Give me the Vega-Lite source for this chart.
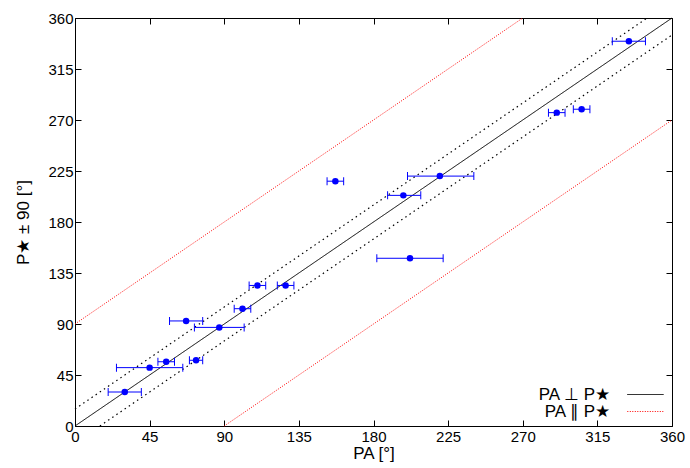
{
  "$schema": "https://vega.github.io/schema/vega-lite/v6.json",
  "width": 597,
  "height": 408,
  "autosize": "none",
  "padding": {"left": 75, "top": 18, "right": 18, "bottom": 42},
  "background": "white",
  "config": {
    "font": "Liberation Sans",
    "view": {"stroke": "black", "strokeWidth": 1},
    "axis": {
      "grid": false, "domain": false,
      "tickColor": "black", "tickSize": -6, "tickWidth": 1,
      "labelColor": "black", "labelFontSize": 15, "labelFont": "Liberation Sans",
      "titleColor": "black", "titleFontSize": 17, "titleFontWeight": "normal", "titleFont": "Liberation Sans",
      "labelFlush": false
    }
  },
  "datasets": {
    "pts": [
      {"PA": 30, "P": 30, "lo": 20, "hi": 40},
      {"PA": 45, "P": 51.5, "lo": 25, "hi": 65},
      {"PA": 55, "P": 56.7, "lo": 50, "hi": 60},
      {"PA": 73, "P": 58, "lo": 69, "hi": 77},
      {"PA": 87, "P": 87, "lo": 72, "hi": 102},
      {"PA": 67, "P": 92.7, "lo": 57, "hi": 77},
      {"PA": 101, "P": 103.5, "lo": 96, "hi": 106},
      {"PA": 110, "P": 124, "lo": 105, "hi": 115},
      {"PA": 127, "P": 124, "lo": 122, "hi": 132},
      {"PA": 220, "P": 220.5, "lo": 200.5, "hi": 240.5},
      {"PA": 198, "P": 203.5, "lo": 188.5, "hi": 208.5},
      {"PA": 202, "P": 148, "lo": 182, "hi": 222},
      {"PA": 334, "P": 339.5, "lo": 324, "hi": 344},
      {"PA": 290.5, "P": 276.5, "lo": 285.5, "hi": 295.5},
      {"PA": 305.5, "P": 279.5, "lo": 300.5, "hi": 310.5},
      {"PA": 157, "P": 216, "lo": 152, "hi": 162}
    ],
    "lines": [
      {"id": "perp", "kind": "PA ⊥ P★", "x": 0, "y": 0},
      {"id": "perp", "kind": "PA ⊥ P★", "x": 360, "y": 360},
      {"id": "par1", "kind": "PA ∥ P★", "x": 0, "y": 90},
      {"id": "par1", "kind": "PA ∥ P★", "x": 270, "y": 360},
      {"id": "par2", "kind": "PA ∥ P★", "x": 90, "y": 0},
      {"id": "par2", "kind": "PA ∥ P★", "x": 360, "y": 270}
    ],
    "band": [
      {"id": "up", "x": 0, "y": 15},
      {"id": "up", "x": 345, "y": 360},
      {"id": "dn", "x": 15, "y": 0},
      {"id": "dn", "x": 360, "y": 345}
    ]
  },
  "layer": [
    {
      "data": {"name": "band"},
      "mark": {"type": "line", "color": "black", "strokeWidth": 1.2, "strokeDash": [1.5, 3.5]},
      "encoding": {
        "x": {"field": "x", "type": "quantitative", "scale": {"domain": [0, 360], "nice": false}, "axis": {"values": [0,45,90,135,180,225,270,315,360], "title": "PA [°]", "labelPadding": 9, "titlePadding": 1}},
        "y": {"field": "y", "type": "quantitative", "scale": {"domain": [0, 360], "nice": false}, "axis": {"values": [0,45,90,135,180,225,270,315,360], "title": "P★ ± 90 [°]", "labelPadding": 8, "titlePadding": 15}},
        "detail": {"field": "id"}
      }
    },
    {
      "data": {"name": "lines"},
      "mark": {"type": "line", "strokeWidth": 1},
      "encoding": {
        "x": {"field": "x", "type": "quantitative", "axis": {"orient": "top", "values": [0,45,90,135,180,225,270,315,360], "labels": false, "title": null}},
        "y": {"field": "y", "type": "quantitative", "axis": {"orient": "right", "values": [0,45,90,135,180,225,270,315,360], "labels": false, "title": null}},
        "detail": {"field": "id"},
        "color": {"field": "kind", "type": "nominal", "scale": {"domain": ["PA ⊥ P★", "PA ∥ P★"], "range": ["black", "#ff0000"]},
          "legend": {"title": null, "orient": "bottom-right", "symbolType": "M-2.6,0H2.6", "symbolSize": 196, "symbolStrokeWidth": 1, "labelFontSize": 17, "labelFont": "Liberation Sans", "labelColor": "black", "labelAlign": "right", "labelOffset": -44, "rowPadding": -2, "padding": 4, "offset": 2,
            "encode": {"symbols": {"update": {"stroke": {"signal": "datum.value === 'PA ∥ P★' ? '#ff0000' : '#000000'"}, "strokeDash": {"signal": "datum.value === 'PA ∥ P★' ? [1, 1.5] : [1, 0]"}, "strokeOpacity": {"value": 1}, "fill": {"value": "transparent"}}}}}},
        "strokeDash": {"field": "kind", "type": "nominal", "scale": {"domain": ["PA ⊥ P★", "PA ∥ P★"], "range": [[1, 0], [1, 1.5]]}, "legend": null}
      }
    },
    {
      "data": {"name": "pts"},
      "mark": {"type": "rule", "color": "#0000ff", "strokeWidth": 1},
      "encoding": {
        "x": {"field": "lo", "type": "quantitative", "axis": null},
        "x2": {"field": "hi"},
        "y": {"field": "P", "type": "quantitative", "axis": null}
      }
    },
    {
      "data": {"name": "pts"},
      "mark": {"type": "tick", "orient": "vertical", "color": "#0000ff", "thickness": 1, "size": 8, "opacity": 1},
      "encoding": {
        "x": {"field": "lo", "type": "quantitative", "axis": null},
        "y": {"field": "P", "type": "quantitative", "axis": null}
      }
    },
    {
      "data": {"name": "pts"},
      "mark": {"type": "tick", "orient": "vertical", "color": "#0000ff", "thickness": 1, "size": 8, "opacity": 1},
      "encoding": {
        "x": {"field": "hi", "type": "quantitative", "axis": null},
        "y": {"field": "P", "type": "quantitative", "axis": null}
      }
    },
    {
      "data": {"name": "pts"},
      "mark": {"type": "circle", "color": "#0000ff", "size": 42, "opacity": 1},
      "encoding": {
        "x": {"field": "PA", "type": "quantitative", "axis": null},
        "y": {"field": "P", "type": "quantitative", "axis": null}
      }
    }
  ],
  "resolve": {"axis": {"x": "independent", "y": "independent"}}
}
